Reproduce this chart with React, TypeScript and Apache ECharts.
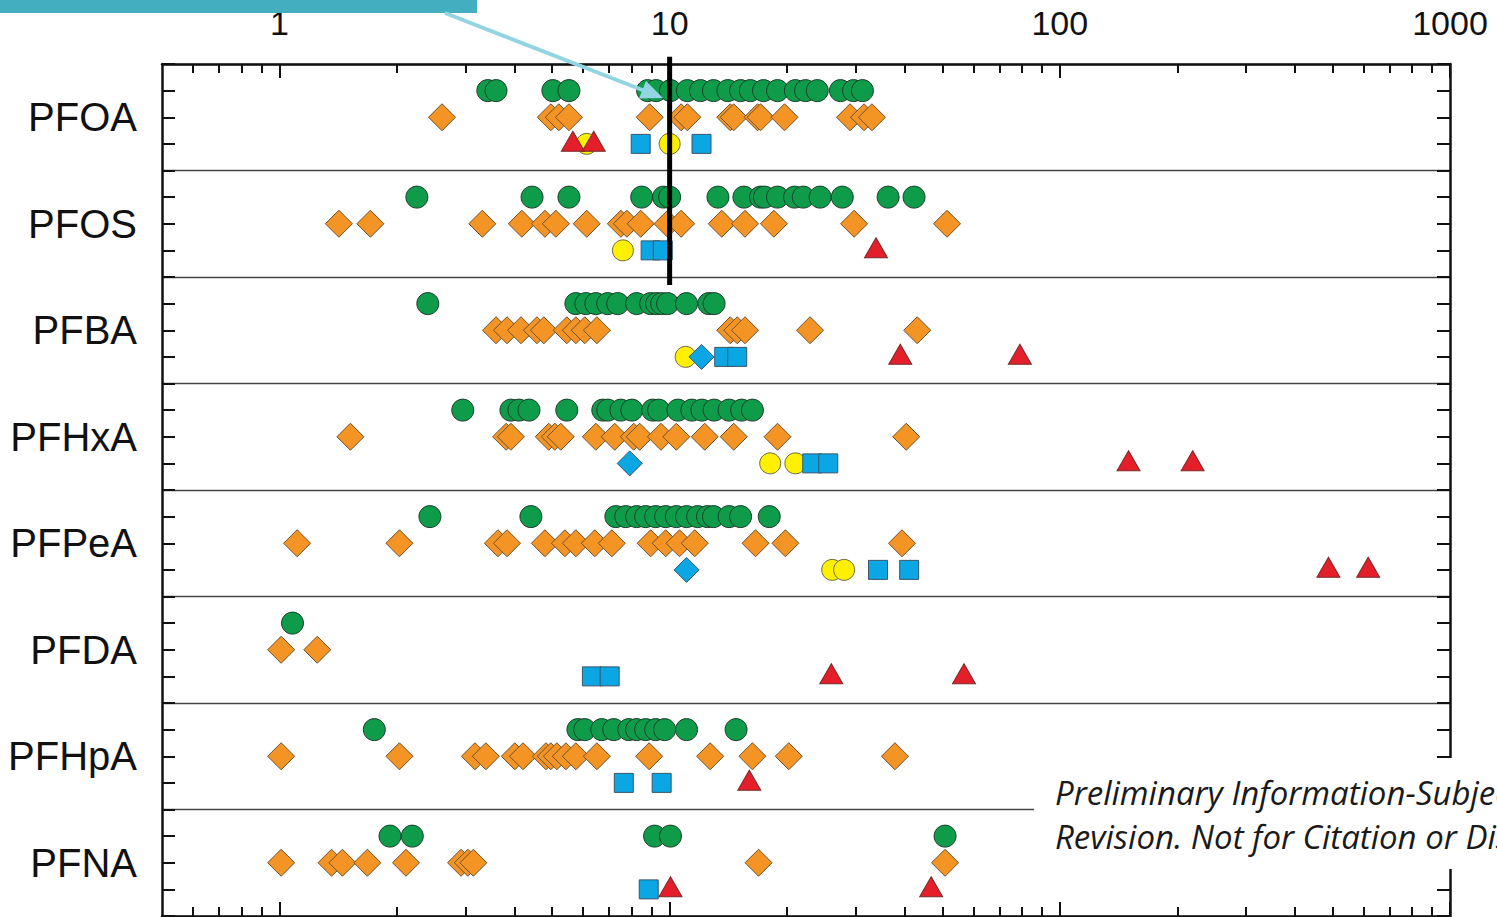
import React, { useEffect, useRef } from 'react';
import * as echarts from 'echarts';

// ---- data ----
const compounds = ['PFOA', 'PFOS', 'PFBA', 'PFHxA', 'PFPeA', 'PFDA', 'PFHpA', 'PFNA'];

const greenCircles: number[][] = [
  [3.42, 3.59, 5.02, 5.52, 8.78, 9.23, 10.05, 11.1, 12.0, 12.95, 14.1, 15.2, 16.1, 17.4, 18.9, 21.0, 22.3, 23.9, 27.4, 29.6, 31.2],
  [2.25, 4.44, 5.52, 8.48, 9.65, 10.0, 13.3, 15.5, 17.1, 17.5, 18.9, 20.9, 22.0, 24.3, 27.7, 36.3, 42.3],
  [2.4, 5.75, 6.1, 6.47, 6.94, 7.36, 8.23, 8.94, 9.26, 9.54, 9.88, 11.05, 12.6, 13.0],
  [2.95, 3.92, 4.11, 4.36, 5.45, 6.74, 6.94, 7.5, 8.0, 9.05, 9.37, 10.5, 11.4, 12.1, 13.0, 14.2, 15.3, 16.3],
  [2.43, 4.41, 7.28, 7.72, 8.23, 8.68, 9.21, 9.77, 10.4, 11.05, 11.8, 12.5, 12.95, 14.2, 15.2, 18.0],
  [1.08],
  [1.75, 5.82, 6.06, 6.7, 7.19, 7.86, 8.23, 8.68, 9.21, 9.71, 11.05, 14.8],
  [1.92, 2.19, 9.15, 10.05, 50.8],
];

const orangeDiamonds: number[][] = [
  [2.61, 4.96, 5.2, 5.52, 8.89, 10.7, 11.1, 14.3, 14.6, 16.8, 17.1, 19.7, 29.0, 31.5, 33.0],
  [1.42, 1.71, 3.31, 4.18, 4.79, 5.11, 6.13, 7.5, 7.77, 8.43, 9.88, 10.7, 13.6, 15.6, 18.5, 29.7, 51.4],
  [3.59, 3.83, 4.16, 4.57, 4.76, 5.45, 5.75, 6.06, 6.51, 14.3, 14.9, 15.6, 22.9, 43.1],
  [1.52, 3.81, 3.92, 4.9, 5.08, 5.26, 6.47, 7.23, 8.09, 8.38, 9.5, 10.4, 12.3, 14.6, 18.9, 40.4],
  [1.11, 2.03, 3.63, 3.83, 4.79, 5.39, 5.75, 6.43, 7.11, 8.94, 9.77, 10.6, 11.6, 16.6, 19.8, 39.4],
  [1.01, 1.25],
  [1.01, 2.03, 3.17, 3.38, 4.01, 4.21, 4.82, 4.96, 5.14, 5.42, 5.75, 6.51, 8.86, 12.7, 16.3, 20.2, 37.8],
  [1.01, 1.36, 1.45, 1.68, 2.11, 2.92, 3.04, 3.14, 16.9, 50.8],
];

const yellowCircles: number[][] = [
  [6.13, 10.0], [7.59], [10.99], [18.1, 21.0], [26.1, 28.0], [], [], [],
];

const blueSquares: number[][] = [
  [8.43, 12.07], [8.94, 9.6], [13.8, 14.9], [23.2, 25.5], [34.2, 41.1], [6.32, 7.02], [7.63, 9.54], [8.84],
];

const blueDiamonds: number[][] = [
  [], [], [12.07], [7.9], [11.05], [], [], [],
];

const redTriangles: number[][] = [
  [5.65, 6.39], [33.8], [39.0, 79.0], [150, 219], [488, 617], [25.96, 56.8], [16.0], [10.05, 46.8],
];

const xMin = 0.5;
const xMax = 1000;
const majorTicks = [1, 10, 100, 1000];
const minorTicks = [0.6, 0.7, 0.8, 0.9, 2, 3, 4, 5, 6, 7, 8, 9, 20, 30, 40, 50, 60, 70, 80, 90, 200, 300, 400, 500, 600, 700, 800, 900];
const referenceValue = 10;
const watermarkLines = ['Preliminary Information-Subject to', 'Revision. Not for Citation or Distribution'];

function rowPoints(values: number[][], offset: number) {
  const out: number[][] = [];
  values.forEach((list, i) => list.forEach((v) => out.push([v, i * 4 + offset])));
  return out;
}

export default function App() {
  const ref = useRef<HTMLDivElement>(null);
  useEffect(() => {
    if (!ref.current) return;
    const chart = echarts.init(ref.current, null, { renderer: 'svg' });
    const lmin = Math.log10(xMin);
    const lmax = Math.log10(xMax);
    const tickAxis = (position: 'top' | 'bottom', values: number[], len: number, labels: boolean, line: boolean) => ({
      type: 'value',
      position,
      min: lmin,
      max: lmax,
      axisLine: { show: line, onZero: false, lineStyle: { color: '#111', width: 2.5 } },
      axisTick: {
        show: true,
        inside: true,
        length: len,
        customValues: values.map((v) => Math.log10(v)),
        lineStyle: { color: '#111', width: 2 },
      },
      axisLabel: labels
        ? {
            show: true,
            customValues: values.map((v) => Math.log10(v)),
            formatter: (v: number) => String(Math.round(Math.pow(10, v))),
            fontSize: 34,
            fontFamily: 'Liberation Sans',
            color: '#111',
            margin: 24,
          }
        : { show: false },
      splitLine: { show: false },
    });
    const sideAxis = (position: 'left' | 'right', labels: boolean) => ({
      type: 'value',
      position,
      min: 0,
      max: 32,
      interval: 1,
      inverse: true,
      axisLine: { show: true, onZero: false, lineStyle: { color: '#111', width: 2.5 } },
      axisTick: { show: true, inside: true, length: 13, lineStyle: { color: '#111', width: 2 } },
      axisLabel: labels
        ? {
            show: true,
            margin: 25,
            fontSize: 40,
            fontFamily: 'Liberation Sans',
            color: '#111',
            formatter: (v: number) => (v % 4 === 2 ? compounds[(v - 2) / 4] : ''),
          }
        : { show: false },
      splitLine: { show: false },
    });

    const option: any = {
      animation: false,
      grid: { left: 162, right: 47, top: 64, bottom: 1, containLabel: false },
      xAxis: [
        {
          type: 'log',
          logBase: 10,
          position: 'top',
          min: xMin,
          max: xMax,
          axisLine: { show: true, onZero: false, lineStyle: { color: '#111', width: 2.5 } },
          axisTick: { show: false },
          axisLabel: { show: false },
          splitLine: { show: false },
          minorTick: { show: false },
        },
        tickAxis('top', majorTicks, 14, true, false),
        tickAxis('top', minorTicks, 9, false, false),
        tickAxis('bottom', majorTicks, 14, false, true),
        tickAxis('bottom', minorTicks, 9, false, false),
      ],
      yAxis: [
        sideAxis('left', true),
        sideAxis('right', false),
        {
          type: 'value',
          position: 'left',
          min: 0,
          max: 32,
          interval: 4,
          inverse: true,
          axisLine: { show: false, onZero: false },
          axisTick: { show: false },
          axisLabel: { show: false },
          splitLine: { show: true, lineStyle: { color: '#444', width: 1.3 } },
        },
      ],
      series: [
        {
          name: 'green',
          type: 'scatter',
          symbol: 'circle',
          symbolSize: 22,
          itemStyle: { color: '#0E9B4A', borderColor: '#1f3d2b', borderWidth: 1, opacity: 1 },
          data: rowPoints(greenCircles, 1),
          z: 3,
        },
        {
          name: 'orange',
          type: 'scatter',
          symbol: 'diamond',
          symbolSize: 27,
          itemStyle: { color: '#F39424', borderColor: '#6e5230', borderWidth: 1, opacity: 1 },
          data: rowPoints(orangeDiamonds, 2),
          z: 3,
        },
        {
          name: 'yellow',
          type: 'scatter',
          symbol: 'circle',
          symbolSize: 21,
          itemStyle: { color: '#FFF000', borderColor: '#6b6b40', borderWidth: 1, opacity: 1 },
          data: rowPoints(yellowCircles, 3),
          z: 3,
        },
        {
          name: 'blueSquare',
          type: 'scatter',
          symbol: 'rect',
          symbolSize: 19,
          itemStyle: { color: '#0AA7E4', borderColor: '#3a5668', borderWidth: 1, opacity: 1 },
          data: rowPoints(blueSquares, 3),
          z: 3,
        },
        {
          name: 'blueDiamond',
          type: 'scatter',
          symbol: 'diamond',
          symbolSize: 25,
          itemStyle: { color: '#0AA7E4', borderColor: '#3a5668', borderWidth: 1, opacity: 1 },
          data: rowPoints(blueDiamonds, 3),
          z: 3,
        },
        {
          name: 'red',
          type: 'scatter',
          symbol: 'triangle',
          symbolSize: [23, 20],
          itemStyle: { color: '#E51F2A', borderColor: '#7a2a2a', borderWidth: 1, opacity: 1 },
          data: rowPoints(redTriangles, 2.9),
          z: 3,
        },
        {
          name: 'reference',
          type: 'line',
          clip: false,
          symbol: 'none',
          lineStyle: { color: '#000', width: 5 },
          data: [
            [referenceValue, -0.27],
            [referenceValue, 8.3],
          ],
          z: 10,
        },
      ],
      graphic: [
        { type: 'rect', shape: { x: 0, y: 0, width: 477, height: 13 }, style: { fill: '#42AEBF' }, z: 100 },
        {
          type: 'line',
          shape: { x1: 445, y1: 13, x2: 645, y2: 91 },
          style: { stroke: '#92D4E2', lineWidth: 4 },
          z: 100,
        },
        {
          type: 'polygon',
          shape: { points: [[663, 98], [639, 98.5], [646, 81]] },
          style: { fill: '#92D4E2' },
          z: 100,
        },
        { type: 'rect', shape: { x: 1034, y: 758, width: 463, height: 111 }, style: { fill: '#ffffff' }, z: 100 },
        {
          type: 'text',
          x: 1055,
          y: 792,
          style: {
            text: watermarkLines[0],
            fontSize: 33,
            fontStyle: 'italic',
            fontFamily: 'Open Sans',
            fill: '#1a1a1a',
            verticalAlign: 'middle',
          },
          z: 101,
        },
        {
          type: 'text',
          x: 1055,
          y: 836,
          style: {
            text: watermarkLines[1],
            fontSize: 33,
            fontStyle: 'italic',
            fontFamily: 'Open Sans',
            fill: '#1a1a1a',
            verticalAlign: 'middle',
          },
          z: 101,
        },
      ],
    };
    chart.setOption(option);
    return () => chart.dispose();
  }, []);
  return (
    <div
      ref={ref}
      style={{ position: 'fixed', left: 0, top: 0, width: 1497, height: 917, background: '#fff' }}
    />
  );
}
